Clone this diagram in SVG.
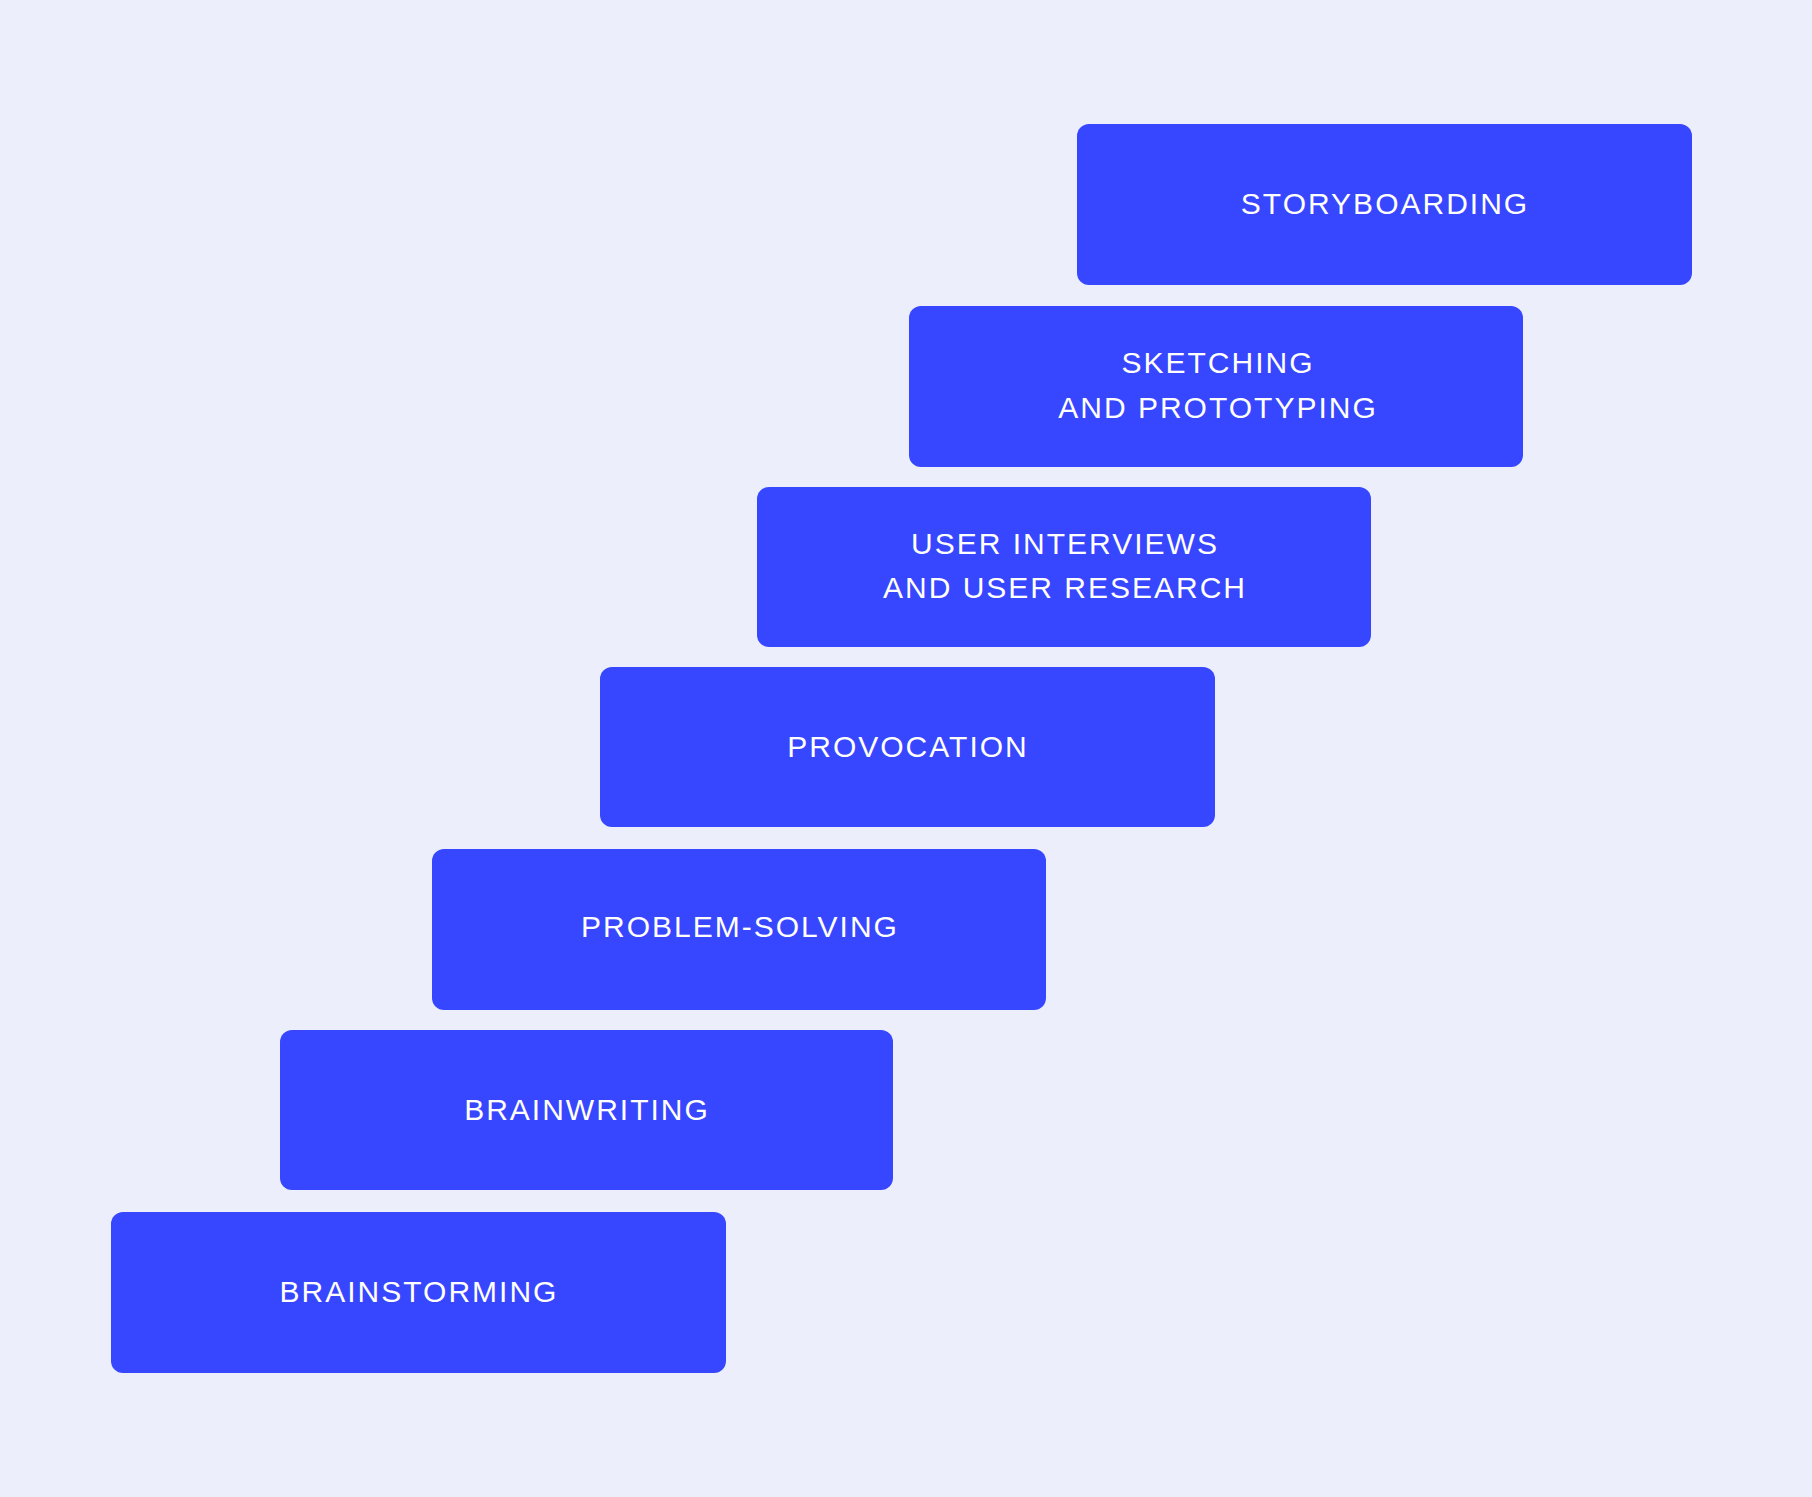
<svg xmlns="http://www.w3.org/2000/svg" width="1812" height="1497" viewBox="0 0 1812 1497">
<style>
.b{fill:#3746FF}
.t{fill:#fff;font-family:"Liberation Sans",sans-serif;font-size:30px;letter-spacing:2px;text-anchor:middle;dominant-baseline:central}
</style>
<rect width="1812" height="1497" fill="#ECEEFC"/>
<g id="n1"><rect class="b" x="1077" y="124" width="615" height="161" rx="12"/><text class="t" x="1385" y="203">STORYBOARDING</text></g>
<g id="n2"><rect class="b" x="909" y="306" width="614" height="161" rx="12"/><text class="t" x="1218" y="362">SKETCHING</text><text class="t" x="1218" y="407">AND PROTOTYPING</text></g>
<g id="n3"><rect class="b" x="757" y="487" width="614" height="160" rx="12"/><text class="t" x="1065" y="543">USER INTERVIEWS</text><text class="t" x="1065" y="587">AND USER RESEARCH</text></g>
<g id="n4"><rect class="b" x="600" y="667" width="615" height="160" rx="12"/><text class="t" x="908" y="746">PROVOCATION</text></g>
<g id="n5"><rect class="b" x="432" y="849" width="614" height="161" rx="12"/><text class="t" x="740" y="926">PROBLEM-SOLVING</text></g>
<g id="n6"><rect class="b" x="280" y="1030" width="613" height="160" rx="12"/><text class="t" x="587" y="1109">BRAINWRITING</text></g>
<g id="n7"><rect class="b" x="111" y="1212" width="615" height="161" rx="12"/><text class="t" x="419" y="1291">BRAINSTORMING</text></g>
<g id="connectors"></g>
</svg>
